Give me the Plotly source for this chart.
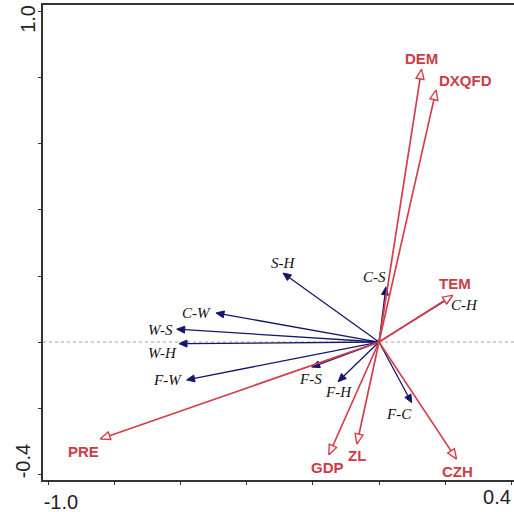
import numpy as np
import plotly.graph_objects as go

# Environmental variables (red vectors)
env_names = ["DEM", "DXQFD", "TEM", "PRE", "GDP", "ZL", "CZH"]
env_x = [0.129, 0.173, 0.224, -0.845, -0.152, -0.067, 0.235]
env_y = [0.827, 0.764, 0.142, -0.294, -0.342, -0.309, -0.355]

# Response variables (blue vectors)
spp_names = ["S-H", "C-S", "C-H", "C-W", "W-S", "W-H", "F-W", "F-S", "F-H", "F-C"]
spp_x = [-0.291, 0.021, 0.220, -0.494, -0.613, -0.606, -0.583, -0.204, -0.124, 0.099]
spp_y = [0.209, 0.167, 0.137, 0.088, 0.039, -0.005, -0.115, -0.076, -0.120, -0.184]

# Axis ticks (labels only at the two ends of each axis)
x_ticks = [-1.0, -0.8, -0.6, -0.4, -0.2, 0.0, 0.2, 0.4]
x_ticktext = ["-1.0", "", "", "", "", "", "", ""]
x_end_tick, x_end_text = [0.4], ["0.4"]
y_ticks = [-0.4, -0.2, 0.0, 0.2, 0.4, 0.6, 0.8, 1.0]
y_ticktext = ["-0.4", "", "", "", "", "", "", ""]
y_end_tick, y_end_text = [1.0], ["1.0"]

X_RANGE = [-1.018, 0.409]
Y_RANGE = [-0.418, 1.021]
W, H = 514, 512
M = dict(l=43, r=0, t=5, b=32)
PX = (W - M["l"] - M["r"]) / (X_RANGE[1] - X_RANGE[0])  # pixels per unit

RED = "#d2404b"
RED_TXT = "#cc3c47"
BLUE = "#16166e"

# label offsets in pixels (dx, dy) relative to the arrow tip
env_off = {"DEM": (0, 11), "DXQFD": (29, 9), "TEM": (2, 12), "PRE": (-17, -12),
           "GDP": (-1, -13), "ZL": (0, -11), "CZH": (1, -12)}
spp_off = {"S-H": (0, 10), "C-S": (-11, 10), "C-H": (13, -8), "C-W": (-19, 0),
           "W-S": (-16, -1), "W-H": (-16, -9), "F-W": (-19, 0), "F-S": (-1, -12),
           "F-H": (0, -10), "F-C": (-13, -11)}


def arrows(xs, ys, head_len, head_half):
    """Return shaft and head polygon coordinates (data units)."""
    L = head_len / PX
    hw = head_half / PX
    sx, sy, hx, hy = [], [], [], []
    for x, y in zip(xs, ys):
        n = np.hypot(x, y)
        ux, uy = x / n, y / n
        bx, by = x - L * ux, y - L * uy
        sx += [0, bx, None]
        sy += [0, by, None]
        px, py = -uy, ux
        hx += [x, bx + hw * px, bx - hw * px, x, None]
        hy += [y, by + hw * py, by - hw * py, y, None]
    return sx, sy, hx, hy


fig = go.Figure()

esx, esy, ehx, ehy = arrows(env_x, env_y, 10, 4)
ssx, ssy, shx, shy = arrows(spp_x, spp_y, 8, 3.5)

fig.add_trace(go.Scatter(x=ssx, y=ssy, mode="lines", line=dict(color=BLUE, width=1.3),
                         hoverinfo="skip", showlegend=False))
fig.add_trace(go.Scatter(x=shx, y=shy, mode="lines", fill="toself", fillcolor=BLUE,
                         line=dict(color=BLUE, width=1), hoverinfo="skip", showlegend=False))
fig.add_trace(go.Scatter(x=esx, y=esy, mode="lines", line=dict(color=RED, width=1.7),
                         hoverinfo="skip", showlegend=False))
fig.add_trace(go.Scatter(x=ehx, y=ehy, mode="lines", fill="toself", fillcolor="white",
                         line=dict(color=RED, width=1.4), hoverinfo="skip", showlegend=False))
# empty trace so the overlaid end-label axes are drawn
fig.add_trace(go.Scatter(x=[], y=[], xaxis="x2", yaxis="y2", showlegend=False,
                         hoverinfo="skip"))

# horizontal reference line through the origin
fig.add_shape(type="line", xref="x", yref="y", x0=X_RANGE[0], x1=X_RANGE[1], y0=0, y1=0,
              line=dict(color="#a0a0a0", width=1, dash="dot"), layer="below")

for name, x, y in zip(env_names, env_x, env_y):
    dx, dy = env_off[name]
    fig.add_annotation(x=x, y=y, text=name, showarrow=False, xshift=dx, yshift=dy,
                       font=dict(family="Arial, Liberation Sans", size=15, color=RED_TXT,
                                 weight="bold"))

for name, x, y in zip(spp_names, spp_x, spp_y):
    dx, dy = spp_off[name]
    fig.add_annotation(x=x, y=y, text=name, showarrow=False, xshift=dx, yshift=dy,
                       font=dict(family="Times New Roman, Liberation Serif", size=15,
                                 color="#111111", style="italic"))

tick_font = dict(family="Arial, Liberation Sans", size=20, color="#222222")
axis_common = dict(showgrid=False, zeroline=False, showline=True, linecolor="#333333",
                   linewidth=1.5, ticks="outside", ticklen=3, tickwidth=1,
                   tickcolor="#333333", ticklabeloverflow="allow", automargin=False,
                   tickfont=tick_font)
end_common = dict(showgrid=False, zeroline=False, showline=False, ticks="",
                  ticklabeloverflow="allow", automargin=False, tickfont=tick_font)

fig.update_layout(
    width=W, height=H, margin=M,
    paper_bgcolor="white", plot_bgcolor="white",
    xaxis=dict(range=X_RANGE, tickvals=x_ticks, ticktext=x_ticktext, mirror=True,
               ticklabelshift=12, **axis_common),
    yaxis=dict(range=Y_RANGE, tickvals=y_ticks, ticktext=y_ticktext, tickangle=-90,
               ticklabelshift=-10, **axis_common),
    xaxis2=dict(range=X_RANGE, overlaying="x", anchor="y2", side="bottom",
                tickvals=x_end_tick, ticktext=x_end_text, ticklabelshift=-14,
                ticklabelstandoff=3, **end_common),
    yaxis2=dict(range=Y_RANGE, overlaying="y", anchor="x2", side="left",
                tickvals=y_end_tick, ticktext=y_end_text, tickangle=-90,
                ticklabelshift=10, ticklabelstandoff=3, **end_common),
)

fig.write_html("out.html")
